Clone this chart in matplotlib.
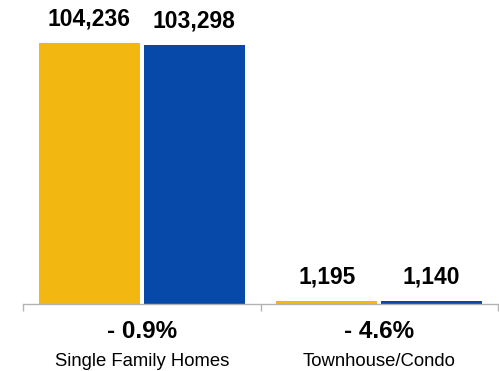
import matplotlib
matplotlib.use("Agg")
import matplotlib.pyplot as plt
import numpy as np

categories = ["Single Family Homes", "Townhouse/Condo"]
prior_year = [104236, 1195]
current_year = [103298, 1140]
pct_change = ["- 0.9%", "- 4.6%"]

plt.rcParams["font.family"] = ["Liberation Sans", "DejaVu Sans"]

fig = plt.figure(figsize=(4.99, 3.71), dpi=100)
ax = fig.add_axes([23 / 499, 67 / 371, 475 / 499, 284 / 371])

x = np.arange(len(categories))
width = 0.425
offset = 0.221
yellow = "#F2B711"
blue = "#0649A8"

b1 = ax.bar(x - offset, prior_year, width, color=yellow)
b2 = ax.bar(x + offset, current_year, width, color=blue)

for bars, vals in ((b1, prior_year), (b2, current_year)):
    for rect, v in zip(bars, vals):
        ax.annotate(f"{v:,}", (rect.get_x() + rect.get_width() / 2, v),
                    xytext=(0, 9), textcoords="offset points",
                    ha="center", va="bottom", fontsize=16.5, fontweight="bold")

ax.set_xlim(-0.5, 1.5)
ax.set_ylim(0, 104236 * 284 / 261)

for s in ("top", "right", "left"):
    ax.spines[s].set_visible(False)
ax.spines["bottom"].set_color("#b3b3b3")
ax.spines["bottom"].set_linewidth(1.0)
ax.set_yticks([])
ax.set_xticks([-0.5, 0.5, 1.5])
ax.set_xticklabels([])
ax.tick_params(axis="x", length=5, color="#b3b3b3", width=1.0)

for xi, cat, pc in zip(x, categories, pct_change):
    ax.annotate(pc, (xi, 0), xycoords=("data", "axes fraction"),
                xytext=(0, -27), textcoords="offset pixels",
                ha="center", va="center", fontsize=17.5, fontweight="bold")
    ax.annotate(cat, (xi, 0), xycoords=("data", "axes fraction"),
                xytext=(0, -57), textcoords="offset pixels",
                ha="center", va="center", fontsize=13.3)

fig.savefig("out.png", dpi=100)
